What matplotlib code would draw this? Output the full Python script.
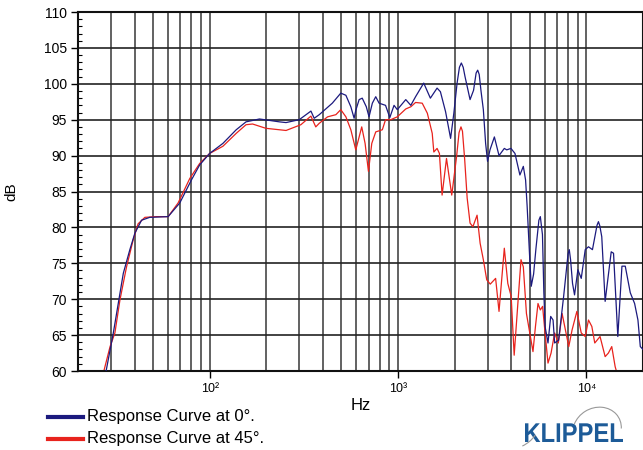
import matplotlib
matplotlib.use('Agg')
import matplotlib.pyplot as plt
from matplotlib.ticker import FixedLocator, LogLocator, MultipleLocator, NullFormatter
from matplotlib.lines import Line2D
from matplotlib.patches import Arc, PathPatch
from matplotlib.textpath import TextPath
from matplotlib.font_manager import FontProperties
from matplotlib.transforms import Affine2D

plt.rcParams['font.family'] = ['Liberation Sans', 'DejaVu Sans']

# Response Curve at 0 deg (Hz, dB)
freq_0 = [28.2, 30.8, 34.8, 37.7, 40.1, 43.5, 48.1, 60.2, 69.4, 80.0, 88.5, 100, 117.6, 138.4,
          156, 183.9, 234.7, 254.5, 299, 345, 359, 382, 448, 497, 529, 562, 585, 597, 622, 646,
          679, 702, 731, 762, 794, 859, 905, 953, 992, 1100, 1170, 1240, 1370, 1486, 1613, 1680,
          1790, 1903, 1980, 2060, 2120, 2170, 2220, 2270, 2414, 2520, 2600, 2650, 2700, 2760, 2840,
          2920, 2990, 3080, 3250, 3440, 3670, 3780, 3980, 4180, 4440, 4630, 4760, 4850, 5000, 5100,
          5250, 5400, 5600, 5700, 5850, 5950, 6040, 6260, 6470, 6660, 6790, 7130, 7580, 8000, 8120,
          8250, 8450, 8660, 9020, 9400, 9870, 10270, 10780, 11400, 11600, 11800, 12080, 12590,
          13000, 13560, 13950, 14700, 15460, 16100, 17120, 18050, 18800, 19350, 20000]
db_0 = [60.0, 65.3, 73.6, 76.9, 79.2, 81.0, 81.4, 81.5, 83.4, 86.6, 88.7, 90.3, 91.7, 93.6,
        94.7, 95.1, 94.7, 94.6, 95.0, 96.2, 95.2, 95.7, 97.3, 98.7, 98.4, 96.8, 95.2, 96.3, 97.8, 98.0,
        96.8, 95.4, 97.3, 98.2, 97.3, 97.0, 95.3, 97.0, 96.4, 97.8, 97.0, 98.2, 100.1, 98.0, 99.4, 98.9,
        96.1, 92.4, 95.9, 100.1, 102.3, 102.9, 102.3, 101.0, 97.8, 99.1, 101.5, 101.9, 101.3, 99.0, 96.4,
        91.7, 89.2, 90.8, 92.6, 90.0, 91.0, 90.8, 91.0, 90.3, 87.3, 88.5, 86.6, 83.0, 76.0, 71.8,
        73.5, 77.0, 81.0, 81.5, 79.0, 71.0, 66.2, 63.9, 67.6, 67.1, 63.9, 64.3, 70.4, 76.3, 76.9,
        75.5, 72.2, 70.6, 74.1, 72.9, 76.9, 77.3, 76.9, 80.3, 80.8, 80.2, 78.7, 69.7,
        72.7, 76.6, 76.4, 64.8, 74.6, 74.6, 70.9, 69.4, 67.1, 63.4, 63.0]

# Response Curve at 45 deg (Hz, dB)
freq_45 = [27.5, 29.6, 31.4, 33.4, 36.2, 39.3, 41.7, 45.3, 52.2, 60.2, 68, 78.4, 88.5, 100,
           117.6, 138.4, 156, 169, 199, 254.5, 305, 345, 366, 382, 423, 468, 497, 529, 562, 597,
           622, 642, 669, 697, 726, 762, 826, 859, 915, 992, 1100, 1170, 1240, 1345, 1432, 1520,
           1550, 1613, 1660, 1715, 1810, 1930, 2050, 2110, 2160, 2200, 2260, 2330, 2414, 2500, 2630,
           2730, 2840, 2960, 3090, 3300, 3440, 3670, 3830, 3990, 4140, 4320, 4500, 4630, 4810, 5210,
           5370, 5540, 5700, 5860, 6040, 6260, 6500, 6790, 7100, 7440, 7680, 8070, 8400, 8910,
           9400, 9870, 10270, 10700, 11090, 11830, 12590, 13100, 13650, 14230, 14700]
db_45 = [60.1, 63.4, 65.3, 69.9, 74.5, 78.3, 80.5, 81.4, 81.5, 81.5, 83.4, 86.8, 88.9, 90.3,
         91.3, 93.1, 94.3, 94.4, 93.8, 93.5, 94.3, 95.5, 94.0, 94.5, 95.4, 95.7, 96.4, 95.4, 93.6, 90.8,
         92.6, 94.0, 91.7, 87.8, 91.7, 93.3, 93.6, 95.0, 95.0, 95.4, 96.5, 96.8, 97.4, 97.3, 95.9, 93.1,
         90.5, 91.0, 90.3, 84.5, 89.6, 84.5, 90.0, 93.2, 94.0, 93.4, 89.5, 84.1, 80.6, 80.1, 81.7,
         77.8, 75.5, 72.7, 72.1, 72.9, 68.3, 77.1, 72.2, 70.4, 62.2, 69.0, 75.5, 74.5, 68.0, 62.7,
         66.2, 69.4, 68.5, 69.0, 65.3, 61.1, 62.5, 65.3, 63.9, 68.0, 66.2, 63.4, 65.7, 68.3,
         65.3, 64.8, 67.1, 66.2, 63.9, 64.8, 62.0, 62.5, 63.4, 60.6, 59.3]

x_major = [100, 1000, 10000]
x_major_labels = ['10²', '10³', '10⁴']

W, H = 643, 450
fig = plt.figure(figsize=(W / 100, H / 100), dpi=100)
ax = fig.add_axes([78 / W, 1 - 371 / H, 1 - 78 / W, (371 - 12) / H])

ax.plot(freq_0, db_0, color='#1c1a7e', lw=0.9, zorder=3)
ax.plot(freq_45, db_45, color='#e8231d', lw=0.9, zorder=2)

ax.set_xscale('log')
ax.set_xlim(20, 20000)
ax.set_ylim(60, 110)

ax.xaxis.set_major_locator(FixedLocator(x_major))
ax.set_xticklabels(x_major_labels, fontsize=9)
ax.xaxis.set_minor_locator(LogLocator(base=10, subs=range(2, 10)))
ax.xaxis.set_minor_formatter(NullFormatter())
ax.yaxis.set_major_locator(MultipleLocator(5))
ax.yaxis.set_minor_locator(MultipleLocator(1))
ax.tick_params(axis='y', which='major', direction='out', length=5, width=1, labelsize=10, pad=3)
ax.tick_params(axis='y', which='minor', direction='in', length=3, width=0.8)
ax.tick_params(axis='x', which='major', direction='out', length=5, width=1, pad=4)
ax.tick_params(axis='x', which='minor', length=0)

ax.grid(axis='x', which='both', color='#555555', lw=1.3)
ax.grid(axis='y', which='major', color='#222222', lw=1.2)
for s in ax.spines.values():
    s.set_linewidth(1.5)
    s.set_color('#111111')

ax.set_xlabel('Hz', fontsize=12, labelpad=2)
ax.set_ylabel('dB', fontsize=11, labelpad=18)

# legend below the plot
fig.add_artist(Line2D([48 / W, 83 / W], [1 - 417 / H] * 2, color='#1c1a7e', lw=3))
fig.add_artist(Line2D([48 / W, 83 / W], [1 - 439 / H] * 2, color='#e8231d', lw=3))
fig.text(87 / W, 1 - 417 / H, 'Response Curve at 0°.', fontsize=12, va='center')
fig.text(87 / W, 1 - 439 / H, 'Response Curve at 45°.', fontsize=12, va='center')

# logo: condensed bold text drawn as a path in pixel units
tp = TextPath((0, 0), 'KLIPPEL', size=26, prop=FontProperties(family='Liberation Sans', weight='bold'))
ext = tp.get_extents()
sx = 98 / ext.width
sy = 18.7 / ext.height
tp = tp.transformed(Affine2D().translate(-ext.x0, -ext.y0).scale(sx, sy).translate(525, H - 442))
fig.add_artist(PathPatch(tp, facecolor='#1d5b98', edgecolor='none', transform=None))
fig.add_artist(Arc((597 / W, 1 - 430 / H), 48 / W, 46 / H, angle=-10, theta1=15, theta2=170,
                   color='#999999', lw=0.8, transform=fig.transFigure))
fig.add_artist(Arc((505 / W, 1 - 420 / H), 70 / W, 60 / H, theta1=295, theta2=325,
                   color='#999999', lw=0.8, transform=fig.transFigure))

fig.savefig('out.png', dpi=100)
